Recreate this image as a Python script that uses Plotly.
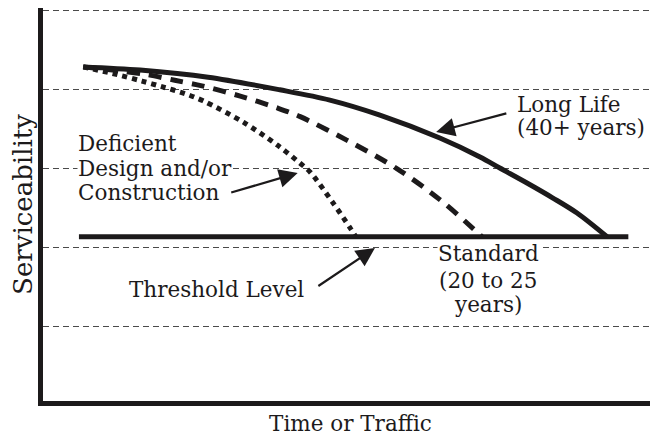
import plotly.graph_objects as go

# ---- data (time units 0-100, serviceability 0-5) ----
long_life_x = [7.0, 16.2, 27.2, 38.8, 46.9, 55.0, 64.7, 71.2, 74.4, 78.8, 83.0, 86.9, 91.75]
long_life_y = [4.28, 4.24, 4.15, 3.99, 3.86, 3.67, 3.38, 3.14, 3.00, 2.81, 2.62, 2.43, 2.13]

standard_x = [7.0, 12.9, 17.5, 21.8, 26.2, 32.4, 38.4, 42.1, 49.7, 57.8, 64.7, 70.7, 71.5]
standard_y = [4.28, 4.23, 4.18, 4.11, 4.04, 3.91, 3.76, 3.65, 3.35, 2.99, 2.60, 2.19, 2.13]

deficient_x = [7.0, 12.6, 16.5, 19.7, 23.5, 26.4, 32.9, 38.4, 42.1, 43.7, 47.4, 50.2, 51.1]
deficient_y = [4.28, 4.18, 4.10, 4.03, 3.94, 3.85, 3.58, 3.29, 3.06, 2.95, 2.56, 2.24, 2.13]

threshold_x = [6.3, 95.2]
threshold_y = [2.13, 2.13]

grid_levels = [1, 2, 3, 4, 5]

INK = "#1c1a1b"
FONT = "DejaVu Serif"
FS = 21.5

fig = go.Figure()
fig.add_trace(go.Scatter(x=threshold_x, y=threshold_y, mode="lines",
                         line=dict(color=INK, width=5), hoverinfo="skip"))
fig.add_trace(go.Scatter(x=long_life_x, y=long_life_y, mode="lines",
                         line=dict(color=INK, width=5, shape="spline", smoothing=0.9),
                         hoverinfo="skip"))
fig.add_trace(go.Scatter(x=standard_x, y=standard_y, mode="lines",
                         line=dict(color=INK, width=5, shape="spline", smoothing=0.9,
                                   dash="13px,9px"), hoverinfo="skip"))
fig.add_trace(go.Scatter(x=deficient_x, y=deficient_y, mode="lines",
                         line=dict(color=INK, width=5, shape="spline", smoothing=0.9,
                                   dash="5px,5px"), hoverinfo="skip"))

def label(text, x, y, anchor="left", bg=None):
    fig.add_annotation(x=x, y=y, xref="x", yref="y", text=text, showarrow=False,
                       xanchor=anchor, yanchor="middle",
                       font=dict(family=FONT, size=FS, color=INK),
                       bgcolor=bg if bg else "rgba(0,0,0,0)", borderpad=0)

def arrow(tx, ty, hx, hy):
    fig.add_annotation(x=hx, y=hy, ax=tx, ay=ty, xref="x", yref="y",
                       axref="x", ayref="y", text="", showarrow=True,
                       arrowhead=2, arrowsize=1.7, arrowwidth=2.2,
                       arrowcolor=INK, standoff=0, startstandoff=0)

label("Long Life", 77.0, 3.80)
label("(40+ years)", 77.0, 3.51)
arrow(75.7, 3.696, 64.1, 3.456)

label("Deficient", 6.0, 3.316)
label("Design and/or", 6.0, 3.0, bg="white")
label("Construction", 6.0, 2.684)
arrow(30.7, 2.684, 41.7, 2.937)

label("Threshold Level", 14.2, 1.468)
arrow(44.8, 1.494, 54.2, 1.987)

label("Standard", 72.5, 1.915, anchor="center", bg="white")
label("(20 to 25", 72.5, 1.582, anchor="center")
label("years)", 72.5, 1.266, anchor="center")

# page body has an 8px margin: figure is sized/placed to compensate
fig.update_layout(
    width=650, height=432,
    margin=dict(l=35, r=0, t=0, b=39, autoexpand=False),
    paper_bgcolor="white", plot_bgcolor="white",
    showlegend=False,
    font=dict(family=FONT, size=FS, color=INK),
    xaxis=dict(range=[0.485, 100], showgrid=False, zeroline=False,
               showticklabels=False, ticks="", showline=True,
               linecolor=INK, linewidth=5, automargin=False,
               title=dict(text="Time or Traffic", standoff=12,
                          font=dict(family=FONT, size=FS, color=INK))),
    yaxis=dict(range=[0.0506, 5.0253], tickvals=grid_levels, showgrid=True,
               gridcolor="#4a4a4a", gridwidth=1, griddash="6px,4px",
               zeroline=False, showticklabels=False, ticks="",
               showline=True, linecolor=INK, linewidth=5, automargin=False,
               title=dict(text="Serviceability", standoff=1,
                          font=dict(family=FONT, size=26, color=INK))),
)

fig.write_html("out.html")
